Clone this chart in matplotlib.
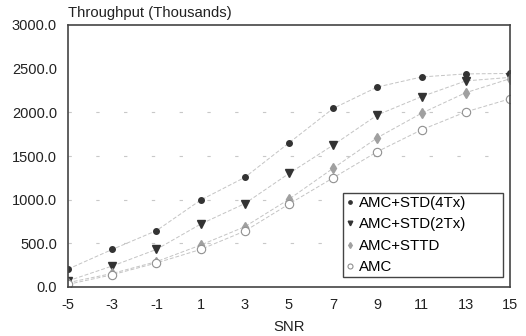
import numpy as np
import matplotlib.pyplot as plt
from matplotlib.patches import Rectangle

plt.rcParams['font.family'] = ['Liberation Sans', 'DejaVu Sans']

# --- Data ---
snr = [-5, -3, -1, 1, 3, 5, 7, 9, 11, 13, 15]
std_4tx = [205, 430, 645, 995, 1255, 1650, 2045, 2290, 2405, 2440, 2445]
std_2tx = [70, 240, 430, 720, 955, 1300, 1625, 1970, 2180, 2360, 2400]
sttd = [50, 155, 290, 480, 690, 1005, 1360, 1710, 1990, 2225, 2385]
amc = [30, 140, 275, 430, 640, 950, 1250, 1550, 1800, 2005, 2155]

series_labels = ['AMC+STD(4Tx)', 'AMC+STD(2Tx)', 'AMC+STTD', 'AMC']
y_ticks = [0, 500, 1000, 1500, 2000, 2500, 3000]
grid_levels = [500, 1000, 1500, 2000]

# --- Figure ---
fig = plt.figure(figsize=(5.26, 3.36), dpi=100)
ax = fig.add_axes([68 / 526, 1 - 287 / 336, (510 - 68) / 526, (287 - 25) / 336])

for g in grid_levels:
    ax.axhline(g, color='#c8c8c8', lw=0.8, dashes=(3, 22), zorder=0)

line_kw = dict(color='#c4c4c4', lw=0.7, dashes=(4, 2))
ax.plot(snr, std_4tx, marker='o', ms=4, mfc='#333333', mec='#333333',
        label=series_labels[0], **line_kw)
ax.plot(snr, std_2tx, marker='v', ms=5.5, mfc='#333333', mec='#333333',
        label=series_labels[1], **line_kw)
ax.plot(snr, sttd, marker='d', ms=5, mfc='#a0a0a0', mec='#a0a0a0',
        label=series_labels[2], **line_kw)
ax.plot(snr, amc, marker='o', ms=6, mfc='white', mec='#909090', mew=0.8,
        label=series_labels[3], **line_kw)

ax.set_xlim(-5, 15)
ax.set_ylim(0, 3000)
ax.set_xticks(snr)
ax.set_xticklabels([str(v) for v in snr])
ax.set_yticks(y_ticks)
ax.set_yticklabels([f'{v:.1f}' for v in y_ticks])
ax.tick_params(length=0, labelsize=10.5, colors='#222222')
ax.tick_params(axis='y', pad=8)
ax.tick_params(axis='x', pad=8)

for s in ax.spines.values():
    s.set_color('#444444')
    s.set_linewidth(1.2)

ax.text(0.0, 1.02, 'Throughput (Thousands)', transform=ax.transAxes,
        fontsize=10.7, color='#222222', ha='left', va='bottom')
fig.text(289 / 526, 1 - 327 / 336, 'SNR', fontsize=10.7, color='#222222',
         ha='center', va='center')

# legend box with extra room on the right, as in the original
ax.add_patch(Rectangle((0.622, 0.038), 0.362, 0.321, transform=ax.transAxes,
                       facecolor='white', edgecolor='#444444', lw=1.0, zorder=4))
leg = ax.legend(loc='center left', bbox_to_anchor=(0.63, 0.198), fontsize=10.8,
                frameon=False, handlelength=0.5, handletextpad=0.35,
                borderpad=0, labelspacing=0.5, markerscale=0.6, borderaxespad=0)
leg.set_zorder(5)
for h in leg.get_lines():
    h.set_linestyle('none')

fig.savefig('out.png', dpi=100)
